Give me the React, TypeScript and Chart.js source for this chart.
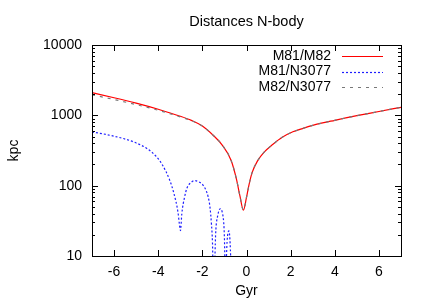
import React, { useEffect, useRef } from "react";
import { Chart, registerables } from "chart.js";

Chart.register(...registerables);

// ---- data ----
const titleText = "Distances N-body";
const xLabel = "Gyr";
const yLabel = "kpc";
const xTicks = [-6, -4, -2, 0, 2, 4, 6];
const yTicks = [10, 100, 1000, 10000];
const seriesNames = ["M81/M82", "M81/N3077", "M82/N3077"];

const tM81M82 = [-7, -6, -5, -4, -3, -2.5, -2, -1.5, -1.1, -0.7, -0.45, -0.3, -0.14, 0, 0.12, 0.25, 0.5, 0.8, 1.2, 1.6, 2.1, 2.5, 3, 4, 5, 6, 7];
const dM81M82 = [2100, 1780, 1490, 1220, 970, 847, 705, 517, 378, 230, 122, 72, 45, 68, 105, 152, 225, 300, 388, 484, 584, 643, 719, 850, 988, 1134, 1301];

const tM82N3077 = [-7, -6, -5, -4, -3, -2.5, -2, -1.5, -1.1, -0.7, -0.45, -0.3, -0.14, 0, 0.12, 0.25, 0.5, 0.8, 1.2, 1.6, 2.1, 2.5, 3, 4, 5, 6, 7];
const dM82N3077 = [1960, 1680, 1420, 1180, 950, 840, 705, 517, 378, 230, 122, 72, 45, 68, 105, 152, 225, 300, 388, 484, 584, 643, 719, 850, 988, 1134, 1301];

const tM81N3077 = [-7, -6.5, -6, -5.5, -5, -4.5, -4.08, -3.8, -3.48, -3.3, -3.1, -3.05, -2.99, -2.93, -2.8, -2.7, -2.5, -2.34, -2.15, -1.97, -1.85, -1.74, -1.65, -1.59, -1.54, -1.5, -1.45, -1.4, -1.3, -1.18, -1.1, -1.03, -1.0, -0.96, -0.92, -0.88, -0.8, -0.75, -0.71, -0.68];
const dM81N3077 = [580, 545, 505, 460, 405, 335, 258, 195, 120, 80, 41, 30, 23, 40, 70, 92, 112, 118, 113, 102, 88, 70, 48, 29, 15, 4, 6, 20, 38, 47, 42, 29, 18, 5, 8, 16, 22.7, 17, 8, 3];

const pts = (t: number[], d: number[]) => t.map((x, i) => ({ x, y: d[i] }));

const FONT = "'Liberation Sans', Arial, sans-serif";
const colors = ["rgb(255,0,0)", "rgb(30,30,255)", "rgb(120,120,120)"];
const dashes: number[][] = [[], [2, 2], [3, 5]];
const widths = [1.2, 1.2, 1.2];

const framePlugin = {
  id: "gnuframe",
  afterDraw(chart: any) {
    const ctx = chart.ctx;
    const { left, right, top, bottom } = chart.chartArea;
    const xs = chart.scales.x;
    const ys = chart.scales.y;
    ctx.save();
    ctx.strokeStyle = "#000";
    ctx.lineWidth = 1;
    ctx.setLineDash([]);
    ctx.strokeRect(Math.round(left) + 0.5, Math.round(top) + 0.5, Math.round(right - left), Math.round(bottom - top));
    ctx.beginPath();
    const major = 6;
    const minor = 3;
    xTicks.forEach((v) => {
      const px = Math.round(xs.getPixelForValue(v)) + 0.5;
      ctx.moveTo(px, bottom);
      ctx.lineTo(px, bottom - major);
      ctx.moveTo(px, top);
      ctx.lineTo(px, top + major);
    });
    const minors: number[] = [];
    [10, 100, 1000].forEach((d) => {
      for (let k = 2; k <= 9; k++) minors.push(d * k);
    });
    yTicks.forEach((v) => {
      const py = Math.round(ys.getPixelForValue(v)) + 0.5;
      ctx.moveTo(left, py);
      ctx.lineTo(left + major, py);
      ctx.moveTo(right, py);
      ctx.lineTo(right - major, py);
    });
    minors.forEach((v) => {
      const py = Math.round(ys.getPixelForValue(v)) + 0.5;
      ctx.moveTo(left, py);
      ctx.lineTo(left + minor, py);
      ctx.moveTo(right, py);
      ctx.lineTo(right - minor, py);
    });
    ctx.stroke();

    // legend
    ctx.font = `14px ${FONT}`;
    ctx.fillStyle = "#000";
    ctx.textAlign = "right";
    ctx.textBaseline = "middle";
    const rowsY = [56, 71.5, 87];
    seriesNames.forEach((name, i) => {
      ctx.fillText(name, 331, rowsY[i]);
      ctx.beginPath();
      ctx.strokeStyle = colors[i];
      ctx.lineWidth = widths[i];
      ctx.setLineDash(dashes[i]);
      ctx.moveTo(342, Math.round(rowsY[i]) + 0.5);
      ctx.lineTo(383, Math.round(rowsY[i]) + 0.5);
      ctx.stroke();
    });
    ctx.setLineDash([]);

    // titles
    ctx.fillStyle = "#000";
    ctx.textAlign = "center";
    ctx.textBaseline = "middle";
    ctx.font = `14.5px ${FONT}`;
    ctx.fillText(titleText, (left + right) / 2, 22);
    ctx.font = `14px ${FONT}`;
    ctx.fillText(xLabel, (left + right) / 2, 291);
    ctx.save();
    ctx.translate(14, (top + bottom) / 2);
    ctx.rotate(-Math.PI / 2);
    ctx.fillText(yLabel, 0, 0);
    ctx.restore();
    ctx.restore();
  },
};

export default function App() {
  const ref = useRef<HTMLCanvasElement | null>(null);
  useEffect(() => {
    if (!ref.current) return;
    const data = [pts(tM81M82, dM81M82), pts(tM81N3077, dM81N3077), pts(tM82N3077, dM82N3077)];
    const order = [2, 1, 0];
    const chart = new Chart(ref.current, {
      type: "line",
      data: {
        datasets: order.map((i) => ({
          label: seriesNames[i],
          data: data[i],
          borderColor: colors[i],
          borderWidth: widths[i],
          borderDash: dashes[i],
          pointRadius: 0,
          fill: false,
          cubicInterpolationMode: "monotone" as const,
        })),
      },
      options: {
        responsive: false,
        animation: false,
        events: [],
        layout: { padding: { top: 45, right: 35, left: 0, bottom: 0 } },
        plugins: {
          legend: { display: false },
          title: { display: false },
          tooltip: { enabled: false },
        },
        scales: {
          x: {
            type: "linear",
            min: -7,
            max: 7,
            grid: { display: false, drawTicks: false },
            border: { display: false },
            ticks: { color: "#000", font: { family: FONT, size: 14 }, padding: 8, maxRotation: 0 },
            afterBuildTicks: (s: any) => {
              s.ticks = xTicks.map((v) => ({ value: v }));
            },
            afterFit: (s: any) => {
              s.height = 49;
            },
          },
          y: {
            type: "logarithmic",
            min: 10,
            max: 10000,
            grid: { display: false, drawTicks: false },
            border: { display: false },
            ticks: {
              color: "#000",
              font: { family: FONT, size: 14 },
              padding: 10,
              callback: (v: any) => String(v),
            },
            afterBuildTicks: (s: any) => {
              s.ticks = yTicks.map((v) => ({ value: v }));
            },
            afterFit: (s: any) => {
              s.width = 92;
            },
          },
        },
      },
      plugins: [framePlugin],
    });
    return () => chart.destroy();
  }, []);
  return (
    <div style={{ position: "absolute", left: 0, top: 0, width: 436, height: 305, background: "#fff" }}>
      <canvas ref={ref} width={436} height={305} style={{ display: "block" }} />
    </div>
  );
}
